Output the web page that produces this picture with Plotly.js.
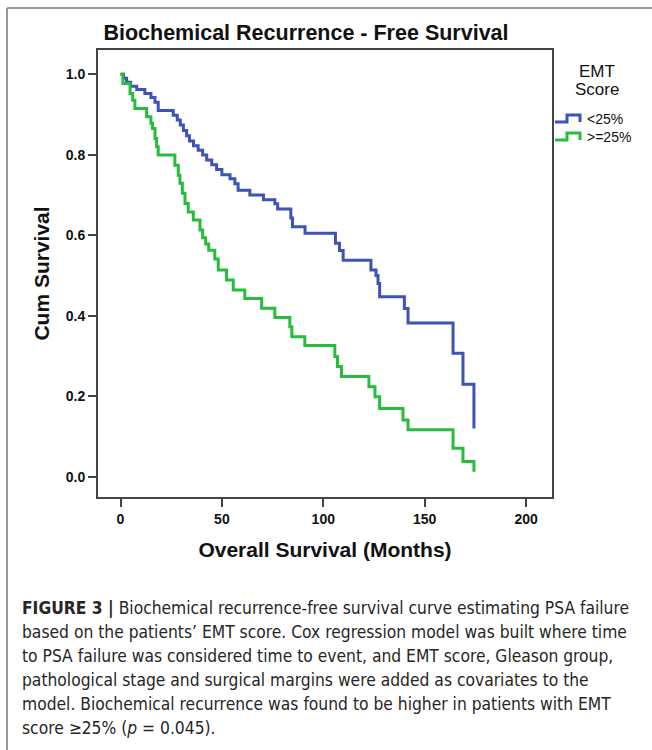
<!DOCTYPE html>
<html><head><meta charset="utf-8">
<script src="https://cdn.plot.ly/plotly-3.0.1.min.js"></script>
<style>html,body{margin:0;padding:0;background:#fff}#chart{width:652px;height:750px}</style>
</head><body><div id="chart"></div>
<script>
// ---- data ----
const seriesNames = ['<25%', '>=25%'];
const lowTime = [0, 1.5, 3, 5, 8, 12, 15, 17, 18.6, 26, 28, 29.5, 31, 32.6, 34, 36, 38.3, 40.5, 42.5, 45, 47.4, 50, 54, 56.4, 58, 63.8, 70.5, 76.1, 77.5, 84, 84.8, 91, 106, 108, 109.8, 123.5, 126, 127, 127.8, 140, 141.8, 164, 168.9, 174.3];
const lowSurv = [1.0, 0.99, 0.98, 0.97, 0.962, 0.952, 0.942, 0.93, 0.91, 0.898, 0.886, 0.874, 0.86, 0.847, 0.834, 0.822, 0.811, 0.799, 0.787, 0.775, 0.763, 0.75, 0.74, 0.728, 0.712, 0.70, 0.688, 0.678, 0.665, 0.643, 0.621, 0.605, 0.58, 0.562, 0.538, 0.514, 0.50, 0.48, 0.447, 0.418, 0.382, 0.307, 0.23, 0.12];
const highTime = [0, 1.2, 4.7, 6, 7.1, 12.9, 15, 15.8, 17, 17.8, 18.6, 26.8, 28.5, 29.3, 30.5, 31.8, 33.4, 35.9, 39.2, 40.5, 42, 43.5, 46.5, 48.2, 52.3, 55.6, 61.3, 69.6, 76.1, 83.5, 84.5, 90.9, 105.7, 107, 109, 122.5, 125.5, 127.8, 139.3, 141.8, 164, 168.9, 174.3];
const highSurv = [1.0, 0.977, 0.952, 0.935, 0.915, 0.894, 0.878, 0.865, 0.84, 0.82, 0.799, 0.774, 0.749, 0.729, 0.704, 0.679, 0.658, 0.638, 0.613, 0.594, 0.578, 0.563, 0.541, 0.514, 0.489, 0.464, 0.443, 0.419, 0.396, 0.373, 0.348, 0.326, 0.299, 0.274, 0.249, 0.224, 0.199, 0.17, 0.141, 0.117, 0.071, 0.038, 0.013];
const xTicks = [0, 50, 100, 150, 200];
const yTicks = [0, 0.2, 0.4, 0.6, 0.8, 1.0];
const yTickText = ['0.0', '0.2', '0.4', '0.6', '0.8', '1.0'];
const captionLines = [
  '<b>FIGURE 3 |</b> Biochemical recurrence-free survival curve estimating PSA failure',
  'based on the patients’ EMT score. Cox regression model was built where time',
  'to PSA failure was considered time to event, and EMT score, Gleason group,',
  'pathological stage and surgical margins were added as covariates to the',
  'model. Biochemical recurrence was found to be higher in patients with EMT',
  'score ≥25% (<i>p</i> = 0.045).'
];

// ---- layout geometry ----
const W = 652, H = 750, L = 98, R = 552, T = 50, B = 497;
const px = x => (x - L) / (R - L);
const py = y => (B - y) / (B - T);
const BLUE = '#3d53b6', GREEN = '#27bd3a';
const ARIAL = 'Arial, "Liberation Sans", sans-serif';
const CAPFONT = '"Liberation Sans Narrow", "DejaVu Sans Condensed", Roboto, sans-serif';

const traces = [
  {x: lowTime, y: lowSurv, name: seriesNames[0], mode: 'lines', line: {shape: 'hv', color: BLUE, width: 3}, showlegend: false},
  {x: highTime, y: highSurv, name: seriesNames[1], mode: 'lines', line: {shape: 'hv', color: GREEN, width: 3}, showlegend: false}
];

function iconPath(yc) {
  const y0 = py(yc + 3.5), y1 = py(yc - 3.5);
  return `M ${px(555)} ${y0} L ${px(567)} ${y0} L ${px(567)} ${y1} L ${px(580)} ${y1} L ${px(580)} ${y0}`;
}

const shapes = [
  {type: 'path', xref: 'paper', yref: 'paper', path: iconPath(118.5), line: {color: BLUE, width: 3}},
  {type: 'path', xref: 'paper', yref: 'paper', path: iconPath(136.5), line: {color: GREEN, width: 3}},
  {type: 'line', xref: 'paper', yref: 'paper', x0: px(7), x1: px(7), y0: py(8), y1: py(760), line: {color: '#777', width: 1.5}},
  {type: 'line', xref: 'paper', yref: 'paper', x0: px(7), x1: px(700), y0: py(8), y1: py(8), line: {color: '#777', width: 1.5}}
];

const annotations = [
  {xref: 'paper', yref: 'paper', x: px(597), y: py(71), text: 'EMT', showarrow: false, xanchor: 'center', yanchor: 'middle', font: {family: ARIAL, size: 17, color: '#111'}},
  {xref: 'paper', yref: 'paper', x: px(597), y: py(89), text: 'Score', showarrow: false, xanchor: 'center', yanchor: 'middle', font: {family: ARIAL, size: 17, color: '#111'}},
  {xref: 'paper', yref: 'paper', x: px(585), y: py(119), text: '&lt;25%', showarrow: false, xanchor: 'left', yanchor: 'middle', font: {family: ARIAL, size: 14, color: '#111'}},
  {xref: 'paper', yref: 'paper', x: px(585), y: py(137), text: '&gt;=25%', showarrow: false, xanchor: 'left', yanchor: 'middle', font: {family: ARIAL, size: 14, color: '#111'}}
];
const capY0 = 608, capStep = 24;
captionLines.forEach((t, i) => {
  annotations.push({xref: 'paper', yref: 'paper', x: px(20), y: py(capY0 + i * capStep), text: t, showarrow: false,
    xanchor: 'left', yanchor: 'middle', align: 'left', font: {family: CAPFONT, size: 17.3, color: '#262626'}});
});

const axisCommon = {
  showgrid: false, zeroline: false, showline: true, mirror: true, linecolor: '#444', linewidth: 2,
  ticks: 'outside', ticklen: 8, tickwidth: 2, tickcolor: '#444',
  tickfont: {family: ARIAL, size: 14, weight: 'bold', color: '#111'}
};

const layout = {
  width: W, height: H,
  margin: {l: L, r: W - R, t: T, b: H - B, pad: 0},
  paper_bgcolor: '#fff', plot_bgcolor: '#fff',
  title: {text: 'Biochemical Recurrence - Free Survival', xref: 'container', yref: 'container', x: 306 / W, y: 1 - 32 / H,
    xanchor: 'center', yanchor: 'middle', font: {family: ARIAL, size: 21.5, weight: 'bold', color: '#111'}},
  xaxis: Object.assign({}, axisCommon, {range: [-11.1, 212.8], tickvals: xTicks,
    title: {text: 'Overall Survival (Months)', standoff: 17, font: {family: ARIAL, size: 21, weight: 'bold', color: '#111'}}}),
  yaxis: Object.assign({}, axisCommon, {range: [-0.05, 1.06], tickvals: yTicks, ticktext: yTickText,
    title: {text: 'Cum Survival', standoff: 10, font: {family: ARIAL, size: 21, weight: 'bold', color: '#111'}}}),
  shapes: shapes,
  annotations: annotations,
  showlegend: false
};

Plotly.newPlot('chart', traces, layout, {displayModeBar: false, staticPlot: true});
</script></body></html>
